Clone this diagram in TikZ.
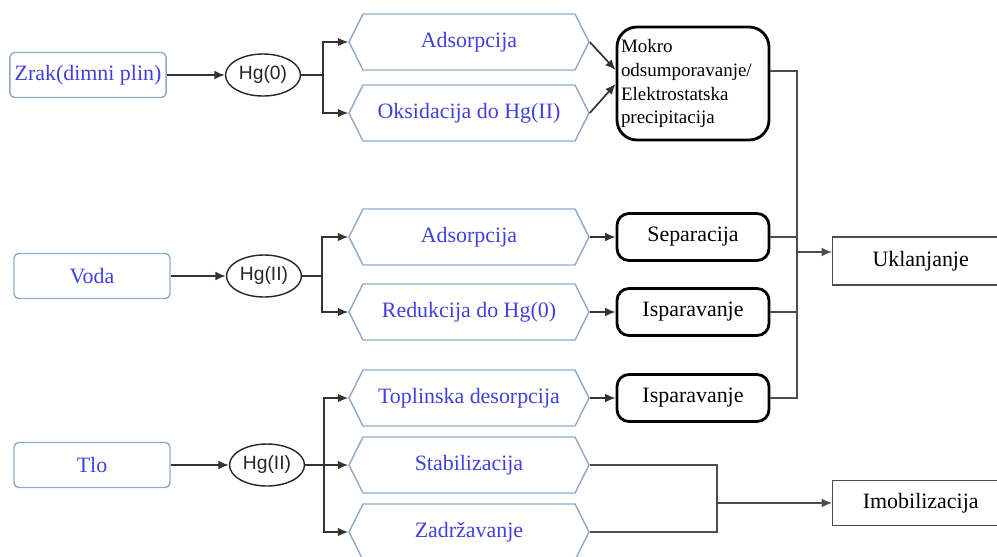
\documentclass[tikz,border=0pt]{standalone}
\usepackage{fontspec}
\setmainfont{Liberation Serif}
\newfontfamily\arialfont{Liberation Sans}
\usetikzlibrary{shapes}
\usetikzlibrary{calc}
\usetikzlibrary{arrows.meta}
\definecolor{plavi}{RGB}{64,64,224}
\definecolor{okvir}{RGB}{140,170,205}

\begin{document}
\begin{tikzpicture}[>={Latex[length=2.6mm,width=2.2mm]},
izvor/.style={rectangle,rounded corners=1.2mm,draw=okvir,line width=1pt,minimum width=3.9cm,minimum height=1.125cm,text=plavi,font=\fontsize{15.6}{18}\selectfont},
oblik/.style={ellipse,draw=black!85,line width=1pt,minimum width=1.875cm,minimum height=1.05cm,inner sep=0pt,text=black!85,font=\arialfont\fontsize{13.7}{16}\selectfont},
postupak/.style={signal,signal to=west and east,signal pointer angle=127,draw=okvir,line width=1pt,minimum width=6cm,minimum height=1.4cm,text=plavi,font=\fontsize{15.6}{18}\selectfont},
uredaj/.style={rectangle,rounded corners=3mm,draw=black,line width=2pt,minimum width=3.8cm,minimum height=1.175cm,font=\fontsize{15.6}{18}\selectfont},
ishod/.style={rectangle,draw=black!70,line width=1pt,minimum width=4.4cm,anchor=west,font=\fontsize{15.6}{18}\selectfont}]
\useasboundingbox (0,0) rectangle (24.925,-13.9);
% zrak
\node[izvor] (zrak) at (2.2,-1.875) {Zrak(dimni plin)};
\node[oblik] (hg0) at (6.575,-1.875) {Hg(0)};
\node[postupak] (ads1) at (11.725,-1.05) {Adsorpcija};
\node[postupak] (oks) at (11.725,-2.825) {Oksidacija do Hg(II)};
\node[uredaj, rounded corners=5mm, minimum height=2.825cm, text width=3.6cm, inner xsep=1mm, align=left, font=\fontsize{13.5}{17}\selectfont] (mokro) at (17.325,-2.0875) {Mokro\\ odsumporavanje/\\ Elektrostatska\\ precipitacija};
% voda
\node[izvor] (voda) at (2.3,-6.9) {Voda};
\node[oblik] (hg2v) at (6.6,-6.9) {Hg(II)};
\node[postupak] (ads2) at (11.725,-5.925) {Adsorpcija};
\node[postupak] (red) at (11.725,-7.8) {Redukcija do Hg(0)};
\node[uredaj] (sep) at (17.325,-5.925) {Separacija};
\node[uredaj] (isp1) at (17.325,-7.8) {Isparavanje};
% tlo
\node[izvor] (tlo) at (2.3,-11.625) {Tlo};
\node[oblik] (hg2t) at (6.675,-11.625) {Hg(II)};
\node[postupak] (topl) at (11.725,-9.95) {Toplinska desorpcija};
\node[postupak] (stab) at (11.725,-11.625) {Stabilizacija};
\node[postupak] (zad) at (11.725,-13.3) {Zadržavanje};
\node[uredaj] (isp2) at (17.325,-9.95) {Isparavanje};
% ishodi
\node[ishod, minimum height=1.2cm] (ukl) at (20.8,-6.525) {Uklanjanje};
\node[ishod, minimum height=1.125cm] (imob) at (20.8,-12.575) {Imobilizacija};
\coordinate (rz1) at (8.075,-1.875);
\coordinate (rz2) at (8.05,-6.9);
\coordinate (rz3) at (8.1,-11.625);
\coordinate (sab) at (19.925,-6.3);
\coordinate (spoj) at (17.925,-12.575);
\begin{scope}[line width=1.2pt, draw=black!80]
 \draw[->] (zrak)--(hg0);
 \draw (hg0)--(rz1);
 \draw[->] (rz1)|-(ads1);
 \draw[->] (rz1)|-(oks);
 \draw[->] (ads1.east)--($(mokro.west)+(0,.3375)$);
 \draw[->] (oks.east)--($(mokro.west)+(0,-.0125)$);
 \draw[->] (voda)--(hg2v);
 \draw (hg2v)--(rz2);
 \draw[->] (rz2)|-(ads2);
 \draw[->] (rz2)|-(red);
 \draw[->] (ads2)--(sep);
 \draw[->] (red)--(isp1);
 \draw[->] (tlo)--(hg2t);
 \draw (hg2t)--(rz3);
 \draw[->] (rz3)|-(topl);
 \draw[->] (rz3)--(stab);
 \draw[->] (rz3)|-(zad);
 \draw[->] (topl)--(isp2);
\end{scope}
\begin{scope}[line width=1pt, draw=black!70]
 \draw ($(mokro.east)+(0,.31)$) -| (sab) |- (isp2);
 \draw (sep) -| (sab);
 \draw (isp1) -| (sab);
 \draw[->] (sab) -- (sab -| ukl.west);
 \draw (stab) -| (spoj);
 \draw (zad) -| (spoj);
 \draw[->] (spoj) -- (imob);
\end{scope}
\end{tikzpicture}
\end{document}
